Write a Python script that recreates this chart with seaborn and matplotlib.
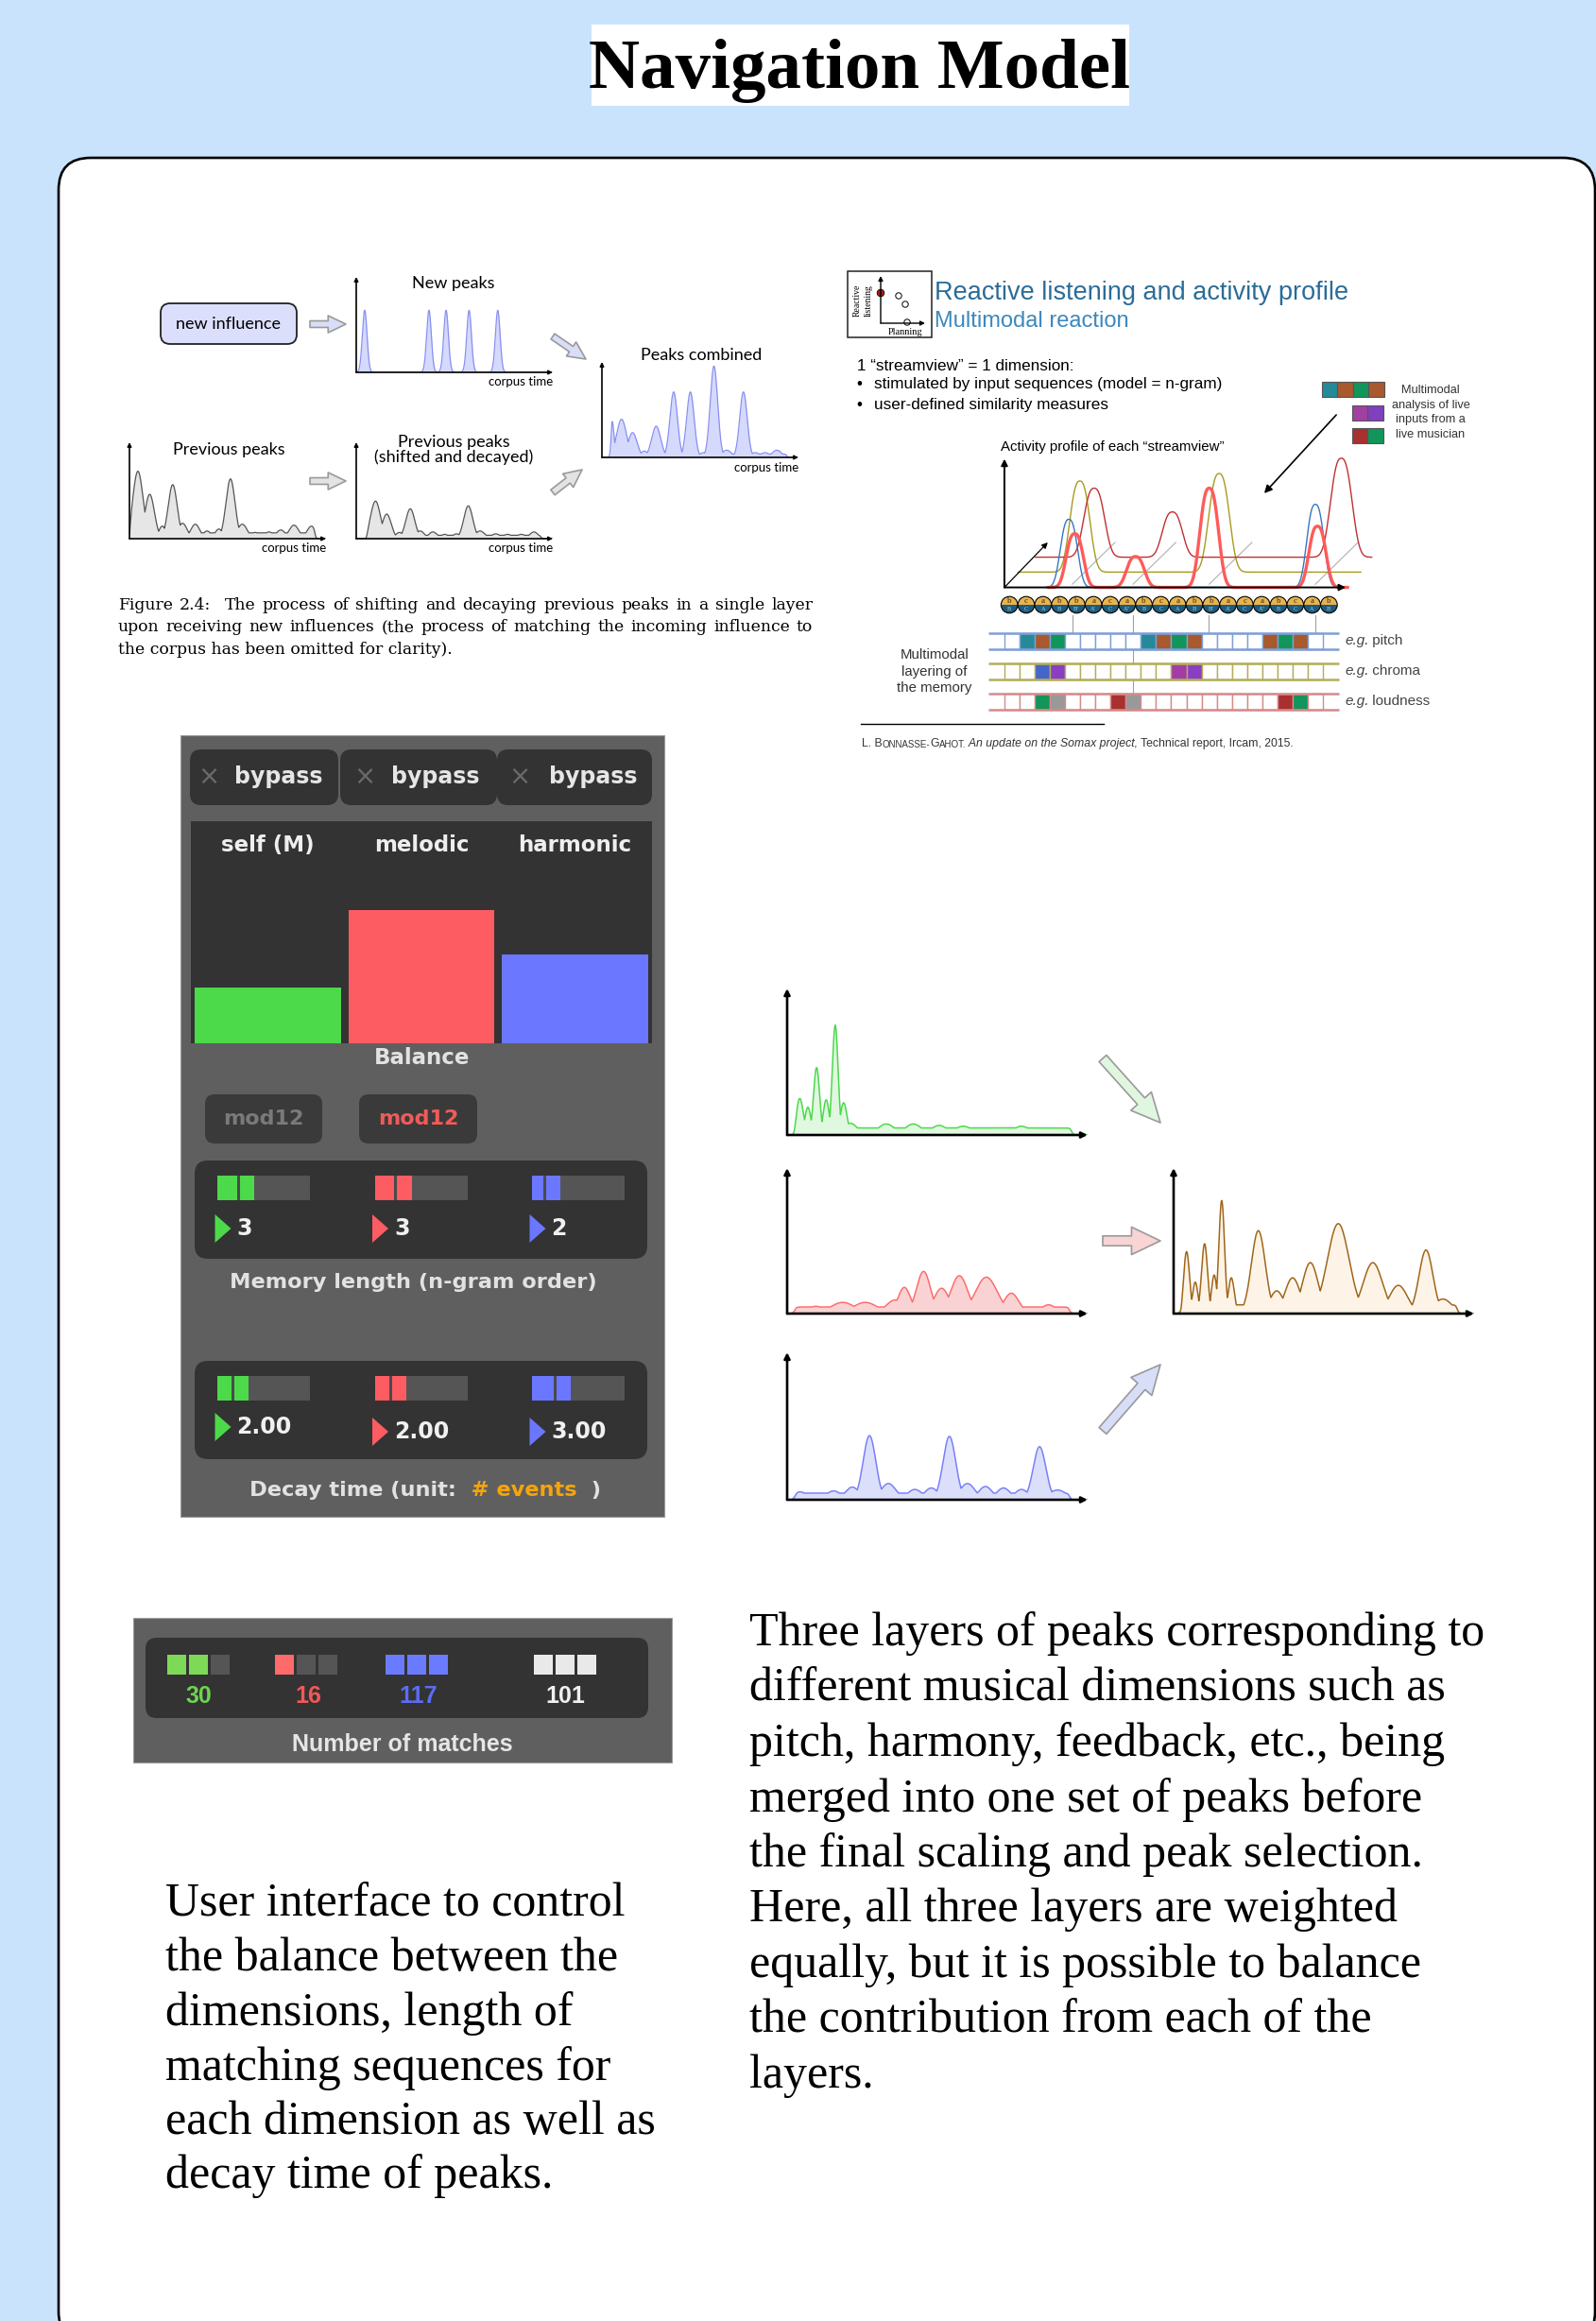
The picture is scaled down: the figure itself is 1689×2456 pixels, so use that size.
import numpy as np
import matplotlib
matplotlib.use('Agg')
import matplotlib.pyplot as plt
import matplotlib.patches as mpatches
import seaborn as sns

W, H = 1690, 2456

# ------------------ DATA ------------------
# peaks: (centre, height, width) on 0-100 axes
new_peaks = [(4.3, 65, 1.2), (37, 65, 1.2), (45.7, 65, 1.2), (57.4, 65, 1.2), (72, 65, 1.2)]
prev_peaks = [(4.3, 70, 2.6), (10.3, 46, 2.4), (16.7, 13, 1.8), (22, 56, 2.3), (27, 16, 2.3),
              (33.5, 15, 2.3), (39.5, 8, 2.0), (45.5, 10, 2.0), (51.4, 62, 2.3), (57.4, 15, 2.5),
              (64, 6.5, 2.4), (71, 7, 2.4), (77, 9, 2.4), (83.7, 14, 2.5), (92.6, 13, 2.3)]
shifted_peaks = [(9.8, 39, 2.5), (15.5, 25.5, 2.3), (22, 6.5, 2.0), (27.5, 31, 2.3), (32.5, 8, 2.2),
                 (39, 7, 2.2), (45, 4.5, 2.0), (51, 5, 2.0), (57, 34, 2.3), (63, 8, 2.4),
                 (71, 5, 2.4), (77, 4.5, 2.4), (84, 4.5, 2.4), (90.4, 7, 2.2)]
combined_peaks = [(4, 65, 1.5), (10, 40, 2.5), (15.6, 26, 2.3), (21.6, 6.6, 2.0), (27.6, 32.7, 2.3),
                  (36.5, 68.6, 1.9), (45, 68.6, 1.9), (51.6, 5, 2.0), (57, 95.7, 1.9), (63.5, 7.6, 2.4),
                  (72, 68.6, 1.9), (78, 5, 2.4), (83, 5, 2.4), (89, 7.6, 2.4)]

self_peaks = [(4.2, 25, 1.2), (6.9, 19, 1.0), (9.8, 46, 1.0), (13, 24, 1.0), (16, 75, 0.95),
              (18.8, 22, 1.1), (21, 8, 2.4), (33, 7.5, 2.8), (42, 7.5, 2.8), (50.6, 6.5, 2.8),
              (58.6, 6, 3.0), (78, 6, 2.8)]
melodic_peaks = [(4.3, 4, 2.2), (9.6, 5, 2.5), (18.5, 7.7, 4.0), (26, 7.7, 4.0), (36, 9.4, 3.0),
                 (39, 18, 2.1), (45.4, 29, 2.3), (51.4, 17.4, 2.5), (57.3, 26, 2.8), (66.3, 25, 3.6),
                 (74.6, 14, 2.5), (87, 6, 2.5)]
harmonic_peaks = [(4.3, 5.4, 2.2), (9.6, 4.5, 2.2), (15.5, 6, 2.5), (21.7, 8.6, 2.3), (27.4, 43.5, 2.1),
                  (33.7, 11, 2.5), (42.5, 7, 2.5), (48, 8, 2.3), (54, 43, 2.1), (60, 11, 2.5),
                  (66, 9, 2.3), (72, 8, 2.3), (78, 7, 2.3), (84, 36, 2.1), (90, 6.6, 3.0)]
merged_peaks = [(4.3, 42.7, 1.0), (7.2, 21.6, 0.9), (10.3, 48, 1.0), (13.5, 26.5, 0.9), (16, 77.7, 0.95),
                (19.2, 24.6, 1.0), (28.2, 57, 2.3), (34.3, 15.6, 2.3), (39.6, 24.6, 2.5), (45.5, 35, 2.6),
                (54.8, 61.8, 3.6), (66.3, 35, 3.2), (74.8, 19.4, 3.0), (84, 43.7, 2.3), (89.6, 10, 3.0)]

# activity profile of each streamview: (baseline, x-range, peaks)
olive_view = (11.9, (4, 104.4), [(22.1, 82.8, 2.8), (62.9, 88.6, 2.9)])
darkred_view = (23.5, (9.1, 107.6), [(26.3, 77.2, 2.9), (49.2, 58.7, 2.8), (98.7, 100.5, 3.0)])
blue_view = (0, (12, 97), [(18.9, 53, 2.4), (91.1, 64.6, 2.4)])
red_view = (0, (13, 100.5), [(20.6, 41.8, 2.4), (38.4, 24, 2.5), (60, 77.2, 2.6), (91.7, 47.6, 2.4)])
floor_lines = [19.9, 37.7, 60, 91.1]

circle_top = list('bcabbacabcabbacabcab')
circle_bottom = ['B', 'C', 'A', "B'", "B''", "A'", "C'", "A''", 'B', 'C', 'A', "B'", "B''", "A'",
                 "C'", "A''", 'B', 'C', 'A', "B'"]

Wc, T, Br, G, Bl, P, M, R, Gy = ('white', '#25899a', '#a8592d', '#12955a', '#4466c8',
                                 '#8a3fc2', '#a43ca8', '#a83030', '#999999')
pitch_cells = [Wc, T, Br, G, Wc, Wc, Wc, Wc, Wc, T, Br, G, Br, Wc, Wc, Wc, Wc, Br, G, Br, Wc]
chroma_cells = [Wc, Wc, Bl, P, Wc, Wc, Wc, Wc, Wc, Wc, Wc, M, P, Wc, Wc, Wc, Wc, Wc, Wc, Wc, Wc]
loud_cells = [Wc, Wc, G, Gy, Wc, Wc, Wc, R, Gy, Wc, Wc, Wc, Wc, Wc, Wc, Wc, Wc, Wc, R, G, Wc]
memory_rows = ['pitch', 'chroma', 'loudness']
row_borders = ['#7f9fd6', '#b5ad5c', '#d68a8a']

dims = ['self (M)', 'melodic', 'harmonic']
dim_colors = ['#4cd94a', '#fd5c63', '#6b77fe']
balance = [0.25, 0.60, 0.40]
mem_order = ['3', '3', '2']
mem_fill = [0.393, 0.393, 0.305]
mem_mark = [0.21, 0.207, 0.122]
decay_time = ['2.00', '2.00', '3.00']
decay_fill = [0.333, 0.333, 0.418]
decay_mark = [0.157, 0.152, 0.235]

match_counts = ['30', '16', '117', '101']
match_lit = [2, 1, 3, 3]
match_colors = ['#7ed957', '#ff6b6b', '#6b7bff', '#e9e9e9']
match_text = ['#6fd44f', '#f25858', '#5b6df5', '#f0f0f0']

caption = ["Figure 2.4:  The process of shifting and decaying previous peaks in a single layer",
           "upon receiving new influences (the process of matching the incoming influence to",
           "the corpus has been omitted for clarity)."]
left_text = ["User interface to control", "the balance between the", "dimensions, length of",
             "matching sequences for", "each dimension as well as", "decay time of peaks."]
right_text = ["Three layers of peaks corresponding to", "different musical dimensions such as",
              "pitch, harmony, feedback, etc., being", "merged into one set of peaks before",
              "the final scaling and peak selection.", "Here, all three layers are weighted",
              "equally, but it is possible to balance", "the contribution from each of the",
              "layers."]

# ------------------ FIGURE ------------------
fig = plt.figure(figsize=(W / 100, H / 100), dpi=100)
fig.patch.set_facecolor('#cae3fd')
bg = fig.add_axes([0, 0, 1, 1])
bg.set_xlim(0, W)
bg.set_ylim(H, 0)
bg.axis('off')

SERIF = 'Liberation Serif'
SANS = 'Liberation Sans'
LIGHT = 'Lato'
UI = 'DejaVu Sans'


def px_axes(x0, y0, x1, y1):
    ax = fig.add_axes([x0 / W, 1 - y1 / H, (x1 - x0) / W, (y1 - y0) / H])
    ax.patch.set_alpha(0)
    return ax


def bare(ax, face=None):
    ax.set_xticks([])
    ax.set_yticks([])
    for s in ax.spines.values():
        s.set_visible(False)
    if face:
        ax.patch.set_alpha(1)
        ax.set_facecolor(face)


def peak_curve(x, peaks, start, end, floor):
    y = np.full_like(x, floor)
    for c, h, s in peaks:
        y = np.maximum(y, h * np.exp(-0.5 * ((x - c) / s) ** 2))
    win = 1 / (1 + np.exp(-(x - start) / 0.3)) / (1 + np.exp((x - end) / 0.3))
    return y * win


def peak_panel(rect, peaks, span, floor, line, fill, lw_axis, lw_line, head):
    ax = px_axes(*rect)
    x = np.linspace(0, 100, 1500)
    y = peak_curve(x, peaks, span[0], span[1], floor)
    ax.fill_between(x, y, color=fill, lw=0)
    sns.lineplot(x=x, y=y, ax=ax, color=line, linewidth=lw_line)
    ax.set_xlim(0, 100)
    ax.set_ylim(0, 100)
    ax.axis('off')
    arrow = dict(arrowstyle='-|>', color='black', lw=lw_axis, mutation_scale=head,
                 shrinkA=0, shrinkB=0)
    ax.annotate('', xy=(1, 0), xytext=(0, 0), xycoords='axes fraction', arrowprops=arrow)
    ax.annotate('', xy=(0, 1), xytext=(0, 0), xycoords='axes fraction', arrowprops=arrow)
    return ax


def block_arrow(p0, p1, fc, tail, head_w, head_l, ec='#9a9a9a'):
    a = mpatches.FancyArrowPatch(
        p0, p1, arrowstyle=f'simple,head_length={head_l},head_width={head_w},tail_width={tail}',
        mutation_scale=1, fc=fc, ec=ec, lw=1.2, shrinkA=0, shrinkB=0)
    bg.add_patch(a)


def chain(x, y, parts, **kw):
    t = bg.text(x, y, parts[0][0], va='baseline', **{**kw, **parts[0][1]})
    for s, extra in parts[1:]:
        t = bg.annotate(s, xy=(1, 0), xycoords=t, va='bottom', **{**kw, **extra})
    return t


def rbox(x0, y0, x1, y1, fc, r=10, ec='none', lw=0):
    bg.add_patch(mpatches.FancyBboxPatch((x0, y0), x1 - x0, y1 - y0,
                                         boxstyle=f'round,pad=0,rounding_size={r}',
                                         fc=fc, ec=ec, lw=lw))


# ------------------ TITLE & FRAME ------------------
bg.add_patch(mpatches.Rectangle((626, 26), 569, 86, fc='white', ec='none'))
bg.text(910, 93, 'Navigation Model', ha='center', va='baseline', family=SERIF,
        fontweight='bold', fontsize=54)
rbox(62, 167, 1688, 2480, 'white', r=34, ec='black', lw=1.9)

# ------------------ FIGURE 2.4 ------------------
rbox(170, 321, 314, 364, '#dcdffb', r=10, ec='#222222', lw=1.3)
bg.text(242, 343, 'new influence', ha='center', va='center', family=LIGHT, fontsize=13)
peak_panel((377, 293, 585, 394), new_peaks, (0, 100), 0, '#8890f0', '#d5d9fb', 1.2, 0.9, 6)
peak_panel((137, 468, 345, 570), prev_peaks, (0.3, 94.5), 6, '#555555', '#e6e6e6', 1.2, 0.9, 6)
peak_panel((377, 468, 585, 570), shifted_peaks, (5.5, 94), 3.5, '#555555', '#e6e6e6', 1.2, 0.9, 6)
peak_panel((637, 383, 845, 484), combined_peaks, (4.8, 94), 3.5, '#8890f0', '#d5d9fb', 1.2, 0.9, 6)
for x, y, s in [(480, 300, 'New peaks'), (242, 476, 'Previous peaks'),
                (480, 476, 'Previous peaks\n(shifted and decayed)'), (742, 376, 'Peaks combined')]:
    bg.text(x, y, s, ha='center', va='center', family=LIGHT, fontsize=13, linespacing=1.0)
for x, y in [(585, 404), (345, 580), (585, 580), (845, 495)]:
    bg.text(x, y, 'corpus time', ha='right', va='center', family=LIGHT, fontsize=9.5)
block_arrow((328, 343), (366, 343), '#d9ddf7', 5, 13, 13.5)
block_arrow((328, 509), (366, 509), '#e3e3e3', 5, 13, 13.5)
block_arrow((585, 356), (620, 380), '#d9ddf7', 5, 13, 13.5)
block_arrow((585, 521), (616, 497), '#e3e3e3', 5, 13, 13.5)

renderer = fig.canvas.get_renderer()
for i, line in enumerate(caption):
    y = 645 + 23.5 * i
    if i == len(caption) - 1:
        bg.text(125, y, line, va='baseline', family='DejaVu Serif', fontsize=12.4)
        continue
    words = line.split(' ')
    ts = [bg.text(0, y, w, va='baseline', family='DejaVu Serif', fontsize=12.4) for w in words]
    ws = [t.get_window_extent(renderer).width for t in ts]
    gap = (860 - 125 - sum(ws)) / (len(words) - 1)
    xx = 125
    for t, w in zip(ts, ws):
        t.set_x(xx)
        xx += w + gap

# ------------------ SOMAX SLIDE ------------------
bg.add_patch(mpatches.Rectangle((897, 287), 89, 70, fc='white', ec='#222222', lw=1.1))
icon_arrow = dict(arrowstyle='-|>', color='black', lw=1.0, mutation_scale=7, shrinkA=0, shrinkB=0)
bg.annotate('', xy=(932, 292), xytext=(932, 342), arrowprops=icon_arrow)
bg.annotate('', xy=(979, 342), xytext=(932, 342), arrowprops=icon_arrow)
bg.add_patch(mpatches.Circle((932, 310), 3.8, fc='#b01818', ec='black', lw=0.6))
for cx, cy in [(951, 313), (958, 322), (960, 341)]:
    bg.add_patch(mpatches.Circle((cx, cy), 3.2, fc='white', ec='black', lw=0.7))
bg.text(907, 318, 'Reactive', rotation=90, ha='center', va='center', family=SERIF, fontsize=7)
bg.text(919, 318, 'listening', rotation=90, ha='center', va='center', family=SERIF, fontsize=7)
bg.text(958, 351, 'Planning', ha='center', va='center', family=SERIF, fontsize=7.5)

bg.text(989, 310, 'Reactive listening and activity profile', va='center', family=SANS,
        fontsize=19.5, color='#2a6c98')
bg.text(989, 340, 'Multimodal reaction', va='center', family=SANS, fontsize=17, color='#3c88bd')
bg.text(907, 387, '1 \u201cstreamview\u201d = 1 dimension:', va='center', family=SANS, fontsize=12.3)
for y, s in [(407, 'stimulated by input sequences (model = n-gram)'),
             (428, 'user-defined similarity measures')]:
    bg.text(909, y, '\u2022', va='center', ha='center', family=SANS, fontsize=12.3)
    bg.text(925, y, s, va='center', family=SANS, fontsize=12.3)
bg.text(1177, 473, 'Activity profile of each \u201cstreamview\u201d', ha='center', va='center',
        family=SANS, fontsize=10.8)

live_rows = [(1399, 404, [T, Br, G, Br]), (1431, 429, ['#a040a0', '#8040c0']), (1431, 453, [R, G])]
for x0, y0, cols in live_rows:
    for k, c in enumerate(cols):
        bg.add_patch(mpatches.Rectangle((x0 + 16.5 * k, y0), 16.5, 16, fc=c, ec='#555555', lw=0.8))
for k, s in enumerate(['Multimodal', 'analysis of live', 'inputs from a', 'live musician']):
    bg.text(1514, 413 + 15.6 * k, s, ha='center', va='center', family=SANS, fontsize=9.2,
            color='#333333')
bg.annotate('', xy=(1336, 524), xytext=(1416, 437),
            arrowprops=dict(arrowstyle='-|>', color='black', lw=1.2, mutation_scale=12))

act = px_axes(1055, 480, 1465, 630)
act.set_xlim(-2.2, 111.3)
act.set_ylim(-6.2, 104.1)
act.axis('off')
for x0 in floor_lines:
    act.plot([x0, x0 + 12.5], [2.5, 35], color='#b0b0b0', lw=0.8)
for (base, (xa, xb), peaks), col, lw in [(olive_view, '#a89a20', 1.0), (darkred_view, '#c03030', 1.0),
                                        (blue_view, '#3577c4', 1.0), (red_view, '#ff5a5a', 2.4)]:
    xs = np.linspace(xa, xb, 800)
    ys = np.full_like(xs, 0.0)
    for c, h, s in peaks:
        ys = np.maximum(ys, (h - base) * np.exp(-0.5 * np.abs((xs - c) / s) ** 2.6))
    sns.lineplot(x=xs, y=ys + base, ax=act, color=col, linewidth=lw)
ax_arrow = dict(arrowstyle='-|>', color='black', lw=1.4, mutation_scale=10, shrinkA=0, shrinkB=0)
act.annotate('', xy=(0, 100), xytext=(0, 0), arrowprops=ax_arrow)
act.annotate('', xy=(100, 0), xytext=(0, 0), arrowprops=ax_arrow)
act.annotate('', xy=(12.7, 35), xytext=(0, 0),
             arrowprops=dict(arrowstyle='-|>', color='black', lw=0.9, mutation_scale=9,
                             shrinkA=0, shrinkB=0))

for xl, yb in [(1134.8, 670), (1199.1, 735), (1279.4, 670), (1392.0, 670)]:
    bg.plot([xl, xl], [651, yb], color='#a0a0a0', lw=0.8)
for i, (a, b) in enumerate(zip(circle_top, circle_bottom)):
    cx = 1068.2 + 17.8 * i
    bg.add_patch(mpatches.Wedge((cx, 640), 8.8, 180, 360, fc='#e8b44e', ec='none'))
    bg.add_patch(mpatches.Wedge((cx, 640), 8.8, 0, 180, fc='#1f5b7c', ec='none'))
    bg.add_patch(mpatches.Circle((cx, 640), 8.8, fc='none', ec='black', lw=0.8))
    bg.text(cx, 635.5, a, ha='center', va='center', family=SERIF, fontsize=6.5, color='#3a2a10')
    bg.text(cx, 645, b, ha='center', va='center', family=SERIF, fontsize=4.5, color='#9fd8ee')

grid = px_axes(1040, 664, 1420, 756)
grid.set_xlim((1040 - 1062.7) / 16.07, (1420 - 1062.7) / 16.07)
grid.set_ylim((756 - 670) / 16.07, (664 - 670) / 16.07)
grid.axis('off')
for r, (cells, border) in enumerate(zip([pitch_cells, chroma_cells, loud_cells], row_borders)):
    top = r * 1.99
    grid.bar(np.arange(len(cells)), 1.03, bottom=top, width=1, align='edge', color=cells,
             edgecolor=border, linewidth=1.0)
    grid.hlines([top, top + 1.03], -1.05, 22.05, color=border, lw=1.8)
for k, s in enumerate(memory_rows):
    chain(1423, 682 + 32 * k, [('e.g.', {'style': 'italic'}), (' ' + s, {})],
          family=SANS, fontsize=11, color='#444444')
for k, s in enumerate(['Multimodal', 'layering of', 'the memory']):
    bg.text(989, 693 + 17.5 * k, s, ha='center', va='center', family=SANS, fontsize=10.8,
            color='#333333')
bg.plot([911, 1168], [766, 766], color='black', lw=1.0)
chain(912, 790, [('L. B', {'fontsize': 8.8}), ('ONNASSE-', {'fontsize': 7}), ('G', {'fontsize': 8.8}),
                 ('AHOT.', {'fontsize': 7}), (' An update on the Somax project,', {'style': 'italic'}),
                 (' Technical report, Ircam, 2015.', {})],
      family=SANS, fontsize=8.8, color='#333333')

# ------------------ BALANCE UI ------------------
bg.add_patch(mpatches.Rectangle((191, 778), 512, 827, fc='#5f5f5f', ec='#9a9a9a', lw=0.8))
for x0, x1, xc, xt in [(201, 358, 221, 295), (360, 526, 386, 461), (526, 690, 550, 628)]:
    rbox(x0, 793, x1, 852, '#333333', r=12)
    bg.text(xc, 822, '\u00d7', ha='center', va='center', family=UI, fontsize=20, color='#6a6a6a')
    bg.text(xt, 822, 'bypass', ha='center', va='center', family=UI, fontweight='bold',
            fontsize=17, color='#e6e6e6')

bal = px_axes(202, 869, 690, 1104)
sns.barplot(x=dims, y=balance, hue=dims, palette=dim_colors, width=0.95, saturation=1,
            legend=False, ax=bal)
bal.set_ylim(0, 1)
bal.set_xlim(-0.5, 2.5)
bal.set_xlabel('')
bal.set_ylabel('')
bare(bal, '#333333')
for i, d in enumerate(dims):
    bal.text(i, 0.89, d, ha='center', va='center', family=UI, fontweight='bold', fontsize=16.5,
             color='#eeeeee')
bg.text(447, 1120, 'Balance', ha='center', va='center', family=UI, fontweight='bold',
        fontsize=16.5, color='#e2e2e2')
for x0, x1, col in [(217, 341, '#7a7a7a'), (380, 505, '#f25a5a')]:
    rbox(x0, 1158, x1, 1210, '#3a3a3a', r=10)
    bg.text((x0 + x1) / 2, 1184, 'mod12', ha='center', va='center', family=UI, fontweight='bold',
            fontsize=16, color=col)

for (y0, y1), (my0, my1), vals, fills, marks, ty, label in [
        ((1228, 1332), (1244, 1270), mem_order, mem_fill, mem_mark, (1300, 1300, 1300),
         'Memory length (n-gram order)'),
        ((1440, 1544), (1456, 1482), decay_time, decay_fill, decay_mark, (1510, 1515, 1515), None)]:
    rbox(206, y0, 685, y1, '#333333', r=14)
    for k, (mx, tx) in enumerate([(230, 227.5), (397, 394), (563, 560.5)]):
        m = px_axes(mx, my0, mx + 98, my1)
        m.barh(0, fills[k], height=1, left=0, color=dim_colors[k])
        m.barh(0, 0.03, height=1, left=marks[k], color='#4a4a4a')
        m.set_xlim(0, 1)
        m.set_ylim(-0.5, 0.5)
        bare(m, '#555555')
        bg.add_patch(mpatches.Polygon([(tx, ty[k] - 15), (tx, ty[k] + 15), (tx + 17, ty[k])],
                                      fc=dim_colors[k], ec='none'))
        bg.text(tx + 23, ty[k], vals[k], va='center', family=UI, fontweight='bold', fontsize=17,
                color='#f0f0f0')
    if label:
        bg.text(437, 1357, label, ha='center', va='center', family=UI, fontweight='bold',
                fontsize=16.2, color='#e2e2e2')
chain(264, 1583, [('Decay time (unit:', {'color': '#e2e2e2'}), ('  # events', {'color': '#f5a50a'}),
                  ('  )', {'color': '#e2e2e2'})],
      family=UI, fontweight='bold', fontsize=16.2)

# ------------------ NUMBER OF MATCHES ------------------
bg.add_patch(mpatches.Rectangle((141, 1712), 570, 153, fc='#5f5f5f', ec='#9a9a9a', lw=0.8))
rbox(154, 1733, 686, 1818, '#333333', r=12)
for g, (gx, tx) in enumerate([(177, 210), (291, 326), (408, 443), (565, 598)]):
    for k in range(3):
        c = match_colors[g] if k < match_lit[g] else '#555555'
        bg.add_patch(mpatches.Rectangle((gx + 23 * k, 1751), 20.5, 21, fc=c, ec='none'))
    bg.text(tx, 1795, match_counts[g], ha='center', va='center', family=SANS, fontweight='bold',
            fontsize=18, color=match_text[g])
bg.text(426, 1846, 'Number of matches', ha='center', va='center', family=SANS, fontweight='bold',
        fontsize=18, color='#e6e6e6')

# ------------------ MERGED LAYERS ------------------
peak_panel((833, 1046, 1151, 1201), self_peaks, (2.5, 94.7), 4.8, '#4cd94a', '#e0f8e0', 1.9, 1.1, 9)
peak_panel((833, 1236, 1151, 1390), melodic_peaks, (2.5, 94), 4.5, '#ff6b6b', '#f9d3d3', 1.9, 1.1, 9)
peak_panel((833, 1431, 1151, 1587), harmonic_peaks, (2.5, 94), 4.5, '#7880f8', '#dcdff9', 1.9, 1.1, 9)
peak_panel((1242, 1236, 1560, 1390), merged_peaks, (2.5, 94.4), 6, '#a0661a', '#fdf4e7', 1.9, 1.1, 9)
block_arrow((1167, 1120), (1228, 1188), '#dff7df', 7.5, 21, 22)
block_arrow((1167, 1313), (1228, 1313), '#f8d4d4', 7.5, 21, 22)
block_arrow((1167, 1514), (1228, 1444), '#d8ddf8', 7.5, 21, 22)

# ------------------ BODY TEXT ------------------
for k, s in enumerate(right_text):
    bg.text(793, 1741 + 58.5 * k, s, va='baseline', family=SERIF, fontsize=36)
for k, s in enumerate(left_text):
    bg.text(175, 2028 + 57.5 * k, s, va='baseline', family=SERIF, fontsize=36)

fig.savefig('out.png', dpi=100)
